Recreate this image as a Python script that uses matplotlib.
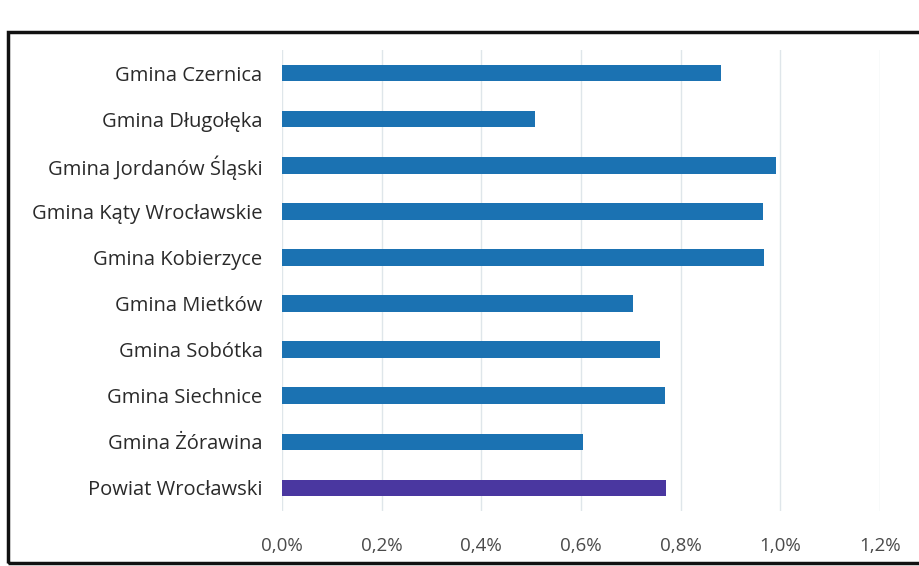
import matplotlib
matplotlib.use("Agg")
import matplotlib.pyplot as plt
from matplotlib.patches import Rectangle

categories = ["Gmina Czernica", "Gmina Długołęka", "Gmina Jordanów Śląski",
              "Gmina Kąty Wrocławskie", "Gmina Kobierzyce", "Gmina Mietków",
              "Gmina Sobótka", "Gmina Siechnice", "Gmina Żórawina",
              "Powiat Wrocławski"]
values = [0.881, 0.508, 0.991, 0.966, 0.967, 0.705, 0.759, 0.768, 0.605, 0.771]
colors = ["#1b72b2"] * 9 + ["#4a37a0"]
xticks = [0.0, 0.2, 0.4, 0.6, 0.8, 1.0, 1.2]
xticklabels = ["0,0%", "0,2%", "0,4%", "0,6%", "0,8%", "1,0%", "1,2%"]

plt.rcParams['font.family'] = ['Open Sans', 'DejaVu Sans']

fig = plt.figure(figsize=(9.19, 5.66), dpi=100)
ax = fig.add_axes([282/919, 1-511/566, (880-282)/919, (511-50)/566])

y = list(range(len(categories)))
ax.barh(y, values, height=0.36, color=colors, zorder=3)
ax.set_ylim(len(categories)-0.5, -0.5)
ax.set_xlim(0, 1.2)
ax.set_yticks(y)
ax.set_yticklabels(categories, fontsize=14.5, color="#2a2a2a")
ax.set_xticks(xticks)
ax.set_xticklabels(xticklabels, fontsize=13.5, color="#4a4a4a")
ax.tick_params(axis='both', length=0)
ax.tick_params(axis='y', pad=14)
ax.tick_params(axis='x', pad=19)
for s in ax.spines.values():
    s.set_visible(False)
ax.grid(axis='x', color="#dfe6ea", linewidth=1, zorder=0)
ax.set_axisbelow(True)

fig.patches.append(Rectangle((8/919, 0.005), 1.2, 1-32/566-0.005, transform=fig.transFigure,
                             fill=False, edgecolor="#111111", linewidth=2.5))

fig.savefig("out.png", dpi=100)
